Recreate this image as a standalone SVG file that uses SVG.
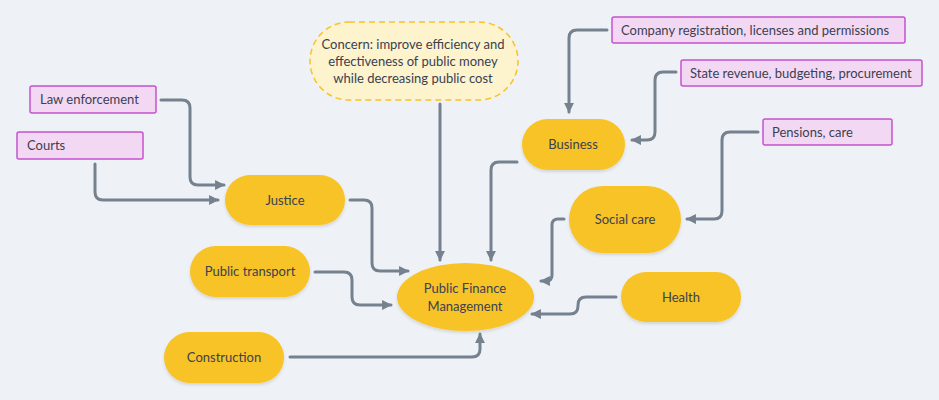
<svg xmlns="http://www.w3.org/2000/svg" width="939" height="400" viewBox="0 0 939 400">
<defs>
<marker id="arr" viewBox="0 0 10 10" refX="9" refY="5" markerWidth="3.3" markerHeight="3.3" orient="auto" markerUnits="strokeWidth">
<path d="M0,0 L10,5 L0,10 Z" fill="#75818e"/>
</marker>
<filter id="sh" x="-20%" y="-20%" width="140%" height="150%">
<feDropShadow dx="0" dy="2" stdDeviation="1.5" flood-color="#000" flood-opacity="0.12"/>
</filter>
</defs>
<style>
text{font-family:Lato,"Noto Sans",sans-serif;font-size:13px;fill:#3a4150}
.pill{fill:#f8c325;filter:url(#sh)}
.box{fill:#f3d8f4;stroke:#c552cf;stroke-width:1.5}
.c{text-anchor:middle}
.con path{fill:none;stroke:#75818e;stroke-width:3;stroke-linejoin:round;stroke-linecap:round;marker-end:url(#arr)}
</style>
<rect width="939" height="400" fill="#eef2f6"/>
<g class="con">
<path d="M161,100 H182 Q190,100 190,108 V177 Q190,185 198,185 H224"/>
<path d="M95,164 V192 Q95,200 103,200 H218"/>
<path d="M350,200 H364 Q372,200 372,208 V263 Q372,271 380,271 H408"/>
<path d="M315,272 H344 Q352,272 352,280 V297 Q352,305 360,305 H391"/>
<path d="M290,357 H472 Q480,357 480,349 V334"/>
<path d="M440,104 V260"/>
<path d="M517,162 H499 Q491,162 491,170 V260"/>
<path d="M564,219 H558 Q552,219 552,225 V275 Q552,281 546,281 H541"/>
<path d="M616,297 H586 Q578,297 578,305 V306 Q578,314 570,314 H532"/>
<path d="M607,30 H577 Q569,30 569,38 V112"/>
<path d="M676,72 H663 Q655,72 655,80 V132 Q655,140 647,140 H632"/>
<path d="M758,132 H730 Q722,132 722,140 V211 Q722,219 714,219 H687"/>
</g>
<g id="concern">
<rect x="310" y="22" width="208" height="78" rx="39" fill="#fdf3cd" stroke="#f8c325" stroke-width="1.5" stroke-dasharray="6 4"/>
<text class="c" x="413" y="49">Concern: improve efficiency and</text>
<text class="c" x="413" y="66">effectiveness of public money</text>
<text class="c" x="413" y="83">while decreasing public cost</text>
</g>
<g id="law"><rect class="box" x="30" y="86" width="126" height="27" rx="2"/><text x="40" y="104">Law enforcement</text></g>
<g id="courts"><rect class="box" x="17" y="132" width="126" height="27" rx="2"/><text x="27" y="150">Courts</text></g>
<g id="company"><rect class="box" x="612" y="17" width="293" height="26" rx="2"/><text x="621" y="35">Company registration, licenses and permissions</text></g>
<g id="state"><rect class="box" x="681" y="60" width="241" height="26" rx="2"/><text x="690" y="78">State revenue, budgeting, procurement</text></g>
<g id="pensions"><rect class="box" x="763" y="119" width="129" height="26" rx="2"/><text x="772" y="137">Pensions, care</text></g>
<g id="justice"><rect class="pill" x="225" y="175" width="120" height="50" rx="25"/><text class="c" x="285" y="205">Justice</text></g>
<g id="transport"><rect class="pill" x="190" y="246" width="120" height="51" rx="25.5"/><text class="c" x="250" y="276">Public transport</text></g>
<g id="construction"><rect class="pill" x="164" y="332" width="120" height="51" rx="25.5"/><text class="c" x="224" y="362">Construction</text></g>
<g id="business"><rect class="pill" x="522" y="119" width="103" height="51" rx="25.5"/><text class="c" x="573" y="149">Business</text></g>
<g id="social"><rect class="pill" x="569" y="186" width="112" height="67" rx="33.5"/><text class="c" x="625" y="224">Social care</text></g>
<g id="health"><rect class="pill" x="621" y="272" width="120" height="50" rx="25"/><text class="c" x="681" y="302">Health</text></g>
<g id="pfm"><ellipse class="pill" cx="465.5" cy="297" rx="68.5" ry="34"/><text class="c" x="465" y="293">Public Finance</text><text class="c" x="465" y="311">Management</text></g>
</svg>
